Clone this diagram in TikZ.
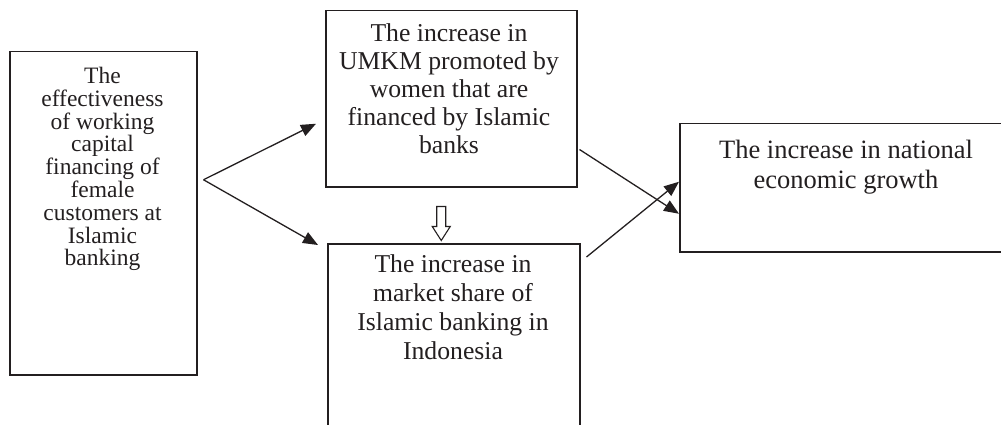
\documentclass[tikz,border=0pt]{standalone}
\usepackage{fontspec}
\setmainfont{Liberation Serif}
\usetikzlibrary{arrows.meta,calc}
\definecolor{ink}{HTML}{231F20}
\tikzset{
  boxnode/.style={draw=ink, line width=1.5pt, rectangle, inner sep=0pt, anchor=north west},
  txt/.style={text=ink, align=center, inner sep=0pt, anchor=north},
  conn/.style={draw=ink, line width=1.3pt, -{Triangle[length=15pt,width=12pt]}},
}
\begin{document}
\begin{tikzpicture}[x=1pt,y=-1pt]
\useasboundingbox (0,0) rectangle (1001,425);
\clip (0,0) rectangle (1001,425);
% boxes
\node[boxnode, minimum width=187pt, minimum height=323pt] (left) at (9,51) {};
\node[boxnode, minimum width=251pt, minimum height=176pt] (top) at (325,10) {};
\node[boxnode, minimum width=252pt, minimum height=240pt] (bot) at (327,243) {};
\node[boxnode, minimum width=334pt, minimum height=128pt] (right) at (679,123) {};
% texts
\node[txt, font=\fontsize{23.5}{22.8}\selectfont] (lefttxt) at (102.5,67)
  {The\\effectiveness\\of working\\capital\\financing of\\female\\customers at\\Islamic\\banking};
\node[txt, font=\fontsize{25.7}{28}\selectfont] (toptxt) at (449,23)
  {The increase in\\UMKM promoted by\\women that are\\financed by Islamic\\banks};
\node[txt, font=\fontsize{25.7}{29.3}\selectfont] (bottxt) at (453,254)
  {The increase in\\market share of\\Islamic banking in\\Indonesia};
\node[txt, font=\fontsize{26.5}{30}\selectfont] (righttxt) at (846,140)
  {The increase in national\\economic growth};
% connector points
\coordinate (fork) at ($(left.east)+(6,-33.5)$);
\coordinate (topin) at ($(top.west)+(-9,25)$);
\coordinate (botin) at ($(bot.north west)+(-9,2)$);
\coordinate (topout) at ($(top.south east)+(2,-38)$);
\coordinate (botout) at ($(bot.north east)+(6,14)$);
\coordinate (rightin1) at ($(right.west)+(0,26)$);
\coordinate (rightin2) at ($(right.west)+(0,-6)$);
\draw[conn] (fork) -- (topin);
\draw[conn] (fork) -- (botin);
\draw[conn] (topout) -- (rightin1);
\draw[conn] (botout) -- (rightin2);
% hollow down arrow between top and bot
\coordinate (ha) at ($(top.south)+(-10,19)$);
\draw[ink, line width=1.1pt, line join=miter]
  ($(ha)+(-4.5,0)$) -- ($(ha)+(4.5,0)$) -- ($(ha)+(4.5,20)$) -- ($(ha)+(9,20)$)
  -- ($(ha)+(0,34)$) -- ($(ha)+(-9,20)$) -- ($(ha)+(-4.5,20)$) -- cycle;
\end{tikzpicture}
\end{document}
